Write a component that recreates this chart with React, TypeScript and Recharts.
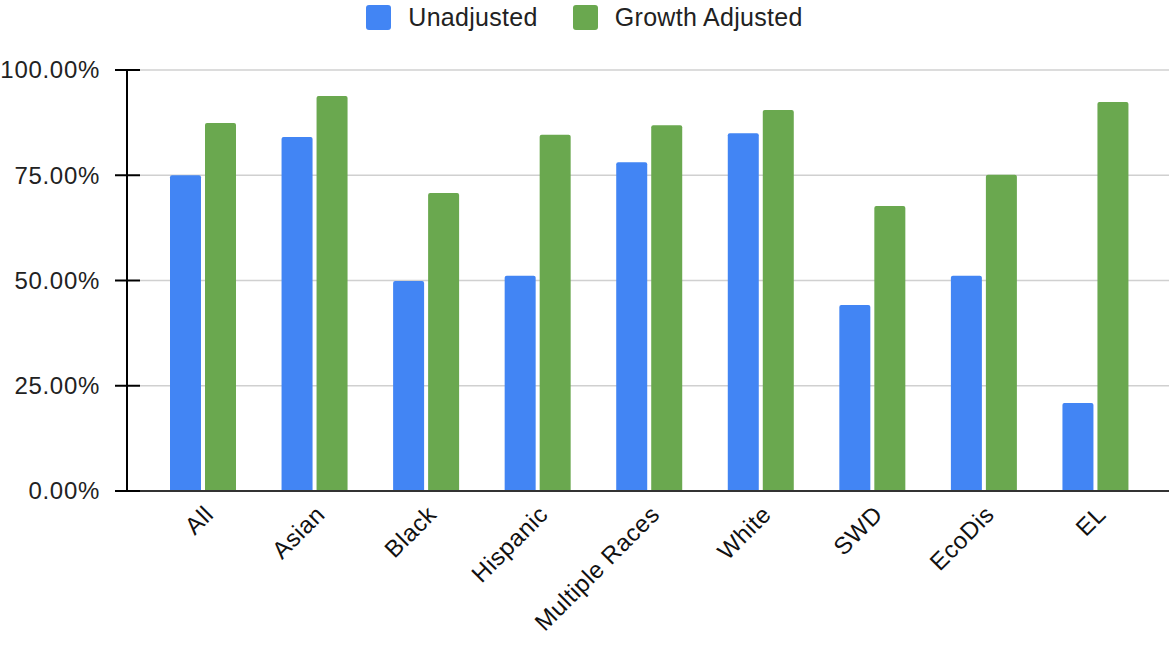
import React from 'react';
import { BarChart, Bar, XAxis, YAxis, CartesianGrid } from 'recharts';

const categories = ['All', 'Asian', 'Black', 'Hispanic', 'Multiple Races', 'White', 'SWD', 'EcoDis', 'EL'];
const unadjusted = [75.0, 84.1, 49.9, 51.1, 78.1, 85.0, 44.2, 51.1, 20.9];
const growthAdjusted = [87.4, 93.8, 70.8, 84.6, 86.9, 90.5, 67.7, 75.1, 92.4];
const yTicks = [0, 25, 50, 75, 100];

const series = [
  { key: 'unadjusted', name: 'Unadjusted', color: '#4285F4' },
  { key: 'growth', name: 'Growth Adjusted', color: '#6AA84F' },
];

const data = categories.map((c, i) => ({ name: c, unadjusted: unadjusted[i], growth: growthAdjusted[i] }));

const FONT = '"Liberation Sans", Arial, sans-serif';

function YTick({ x, y, payload }: any) {
  return (
    <g>
      <line x1={x - 12} x2={x + 13} y1={y} y2={y} stroke="#000" strokeWidth={2} />
      <text x={x - 27} y={y} dy="0.35em" textAnchor="end" fontSize={24} letterSpacing={0.7} fontFamily={FONT} fill="#222">
        {`${payload.value.toFixed(2)}%`}
      </text>
    </g>
  );
}

function XTick({ x, y, payload }: any) {
  const tx = x + 12;
  const ty = y + 25;
  return (
    <text x={tx} y={ty} textAnchor="end" fontSize={24} letterSpacing={0.5} fontFamily={FONT} fill="#111" transform={`rotate(-45 ${tx} ${ty})`}>
      {payload.value}
    </text>
  );
}

function GridLine(p: any) {
  return <line key={p.key} x1={p.x1 + 13} x2={p.x2} y1={p.y1} y2={p.y2} stroke="#d0d0d0" strokeWidth={1.5} />;
}

export default function App() {
  return (
    <div style={{ position: 'relative', width: 1169, height: 645, background: '#fff' }}>
      <style>{'body{margin:0}'}</style>
      <div
        style={{
          position: 'absolute', top: 3, left: 0, width: 1169, display: 'flex', justifyContent: 'center',
          fontFamily: FONT, fontSize: 25, color: '#222', zIndex: 1,
        }}
      >
        {series.map((s, i) => (
          <div key={s.key} style={{ display: 'flex', alignItems: 'center', marginLeft: i ? 35 : 0 }}>
            <span style={{ width: 25, height: 25, background: s.color, borderRadius: 3, marginRight: 17, display: 'inline-block' }} />
            <span style={{ letterSpacing: 0.3 }}>{s.name}</span>
          </div>
        ))}
      </div>
      <BarChart width={1169} height={645} data={data} margin={{ top: 70, right: 0, bottom: 0, left: 0 }} barSize={31} barGap={4}>
        <CartesianGrid vertical={false} horizontal={GridLine} />
        <XAxis
          dataKey="name"
          height={154}
          interval={0}
          padding={{ left: 20, right: 18 }}
          axisLine={{ stroke: '#333', strokeWidth: 2 }}
          tickLine={false}
          tickSize={0}
          tickMargin={0}
          tick={<XTick />}
        />
        <YAxis
          width={127}
          domain={[0, 100]}
          ticks={yTicks}
          axisLine={{ stroke: '#000', strokeWidth: 2 }}
          tickLine={false}
          tickSize={0}
          tickMargin={0}
          tick={<YTick />}
        />
        {series.map((s) => (
          <Bar key={s.key} dataKey={s.key} name={s.name} fill={s.color} radius={[2, 2, 0, 0]} isAnimationActive={false} />
        ))}
      </BarChart>
    </div>
  );
}
